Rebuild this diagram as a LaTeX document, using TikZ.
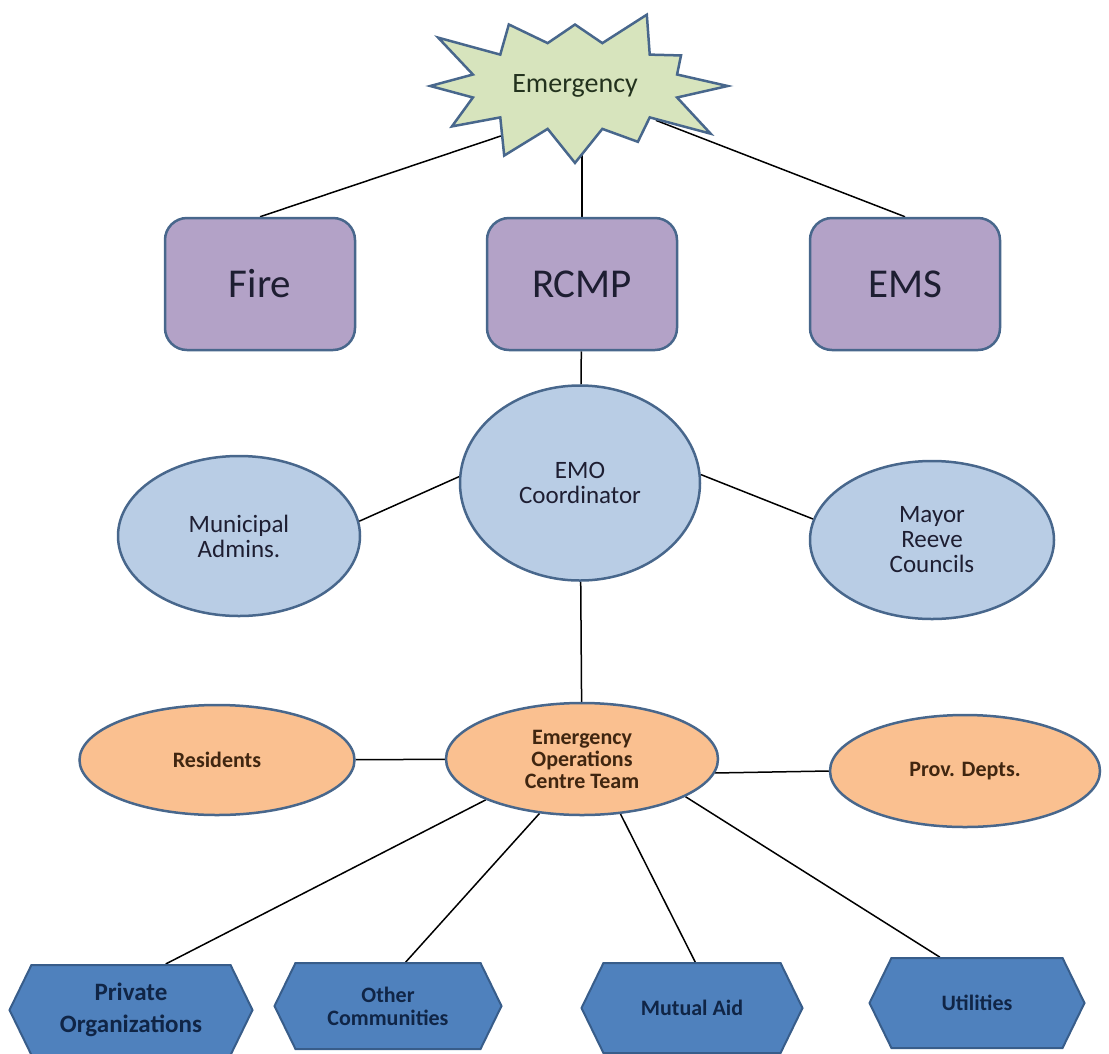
\documentclass[tikz,border=0pt]{standalone}
\usepackage{fontspec}
\setmainfont{Carlito}
\usetikzlibrary{shapes.symbols,shapes.geometric,backgrounds}
\definecolor{starfill}{RGB}{215,228,189}
\definecolor{rimblue}{RGB}{72,103,140}
\definecolor{boxlila}{RGB}{179,162,199}
\definecolor{ovalblue}{RGB}{185,205,229}
\definecolor{ovalorange}{RGB}{250,192,144}
\definecolor{hexblue}{RGB}{79,129,189}
\definecolor{hexrim}{RGB}{56,93,138}
\definecolor{inkblue}{RGB}{16,37,70}
\definecolor{inkbrown}{RGB}{64,38,16}
\definecolor{inkdark}{RGB}{30,30,50}
\definecolor{inkgreen}{RGB}{35,50,30}
\newcommand{\fsz}[2]{\fontsize{#1}{#2}\selectfont}

\begin{document}
\begin{tikzpicture}[x=1pt, y=-1pt,
				burst/.style={starburst, starburst points=12, starburst point height=54pt, random starburst=3, draw=rimblue, line width=2.5pt, fill=starfill, inner xsep=12pt, inner ysep=20pt, text=inkgreen, font=\fsz{28}{32}},
				unit/.style={rectangle, rounded corners=22pt, draw=rimblue, line width=2.5pt, fill=boxlila, minimum width=190pt, minimum height=132pt, text=inkdark, font=\fsz{41}{44}},
				blueoval/.style={ellipse, draw=rimblue, line width=2.5pt, fill=ovalblue, inner sep=0pt, align=center, text=inkdark, font=\fsz{25}{25}},
				orangeoval/.style={ellipse, draw=rimblue, line width=2.5pt, fill=ovalorange, inner sep=0pt, align=center, text=inkbrown, font=\bfseries\fsz{22}{22}},
				hexa/.style={signal, signal to=west and east, signal pointer angle=128, draw=hexrim, line width=2pt, fill=hexblue, inner sep=0pt, minimum height=90pt, align=center, text=inkblue, font=\bfseries\fsz{22}{23}},
				link/.style={draw=black, line width=1.5pt}]
				% Bildbereich
				\useasboundingbox (0,0) rectangle (1109,1053);
				% Ausloeser
				\node[burst] (star) at (575,86) {Emergency};
				% Einsatzkraefte
				\node[unit] (fire) at (260,284) {Fire};
				\node[unit] (rcmp) at (582,284) {RCMP};
				\node[unit] (ems) at (905,284) {EMS};
				% Koordination
				\node[blueoval, minimum width=240pt, minimum height=195pt] (emo) at (580,483) {EMO\\Coordinator};
				\node[blueoval, minimum width=242pt, minimum height=160pt] (muni) at (239,536) {Municipal\\Admins.};
				\node[blueoval, minimum width=244pt, minimum height=158pt] (mayor) at (932,540) {Mayor\\Reeve\\Councils};
				% Einsatzzentrale
				\node[orangeoval, minimum width=272pt, minimum height=112pt] (eoc) at (582,759) {Emergency\\Operations\\Centre Team};
				\node[orangeoval, minimum width=275pt, minimum height=110pt] (res) at (217,760) {Residents};
				\node[orangeoval, minimum width=270pt, minimum height=112pt] (prov) at (965,771) {Prov. Depts.};
				% Partner
				\node[hexa, minimum width=243pt, font=\bfseries\fsz{25}{32}] (priv) at (131,1010) {Private\\Organizations};
				\node[hexa, minimum width=227pt, minimum height=86pt] (other) at (388,1006) {Other\\Communities};
				\node[hexa, minimum width=221pt] (mutual) at (692,1008) {Mutual Aid};
				\node[hexa, minimum width=215pt] (util) at (977,1003) {Utilities};
				% Verbindungen
				\begin{scope}[on background layer]
				\draw[link] (fire.north) -- (star.214);
				\draw[link] (rcmp.north) -- (rcmp.north |- star.center);
				\draw[link] (ems.north) -- (star.337);
				\draw[link] (rcmp) -- (emo);
				\draw[link] (muni.7) -- (emo.177);
				\draw[link] (emo.4) -- (mayor.170);
				\draw[link] (emo) -- (eoc);
				\draw[link] (res) -- (eoc);
				\draw[link] (eoc.-6) -- (prov.west);
				\foreach \h/\a/\b in {priv/203/53, other/232/68, mutual/305/86, util/340/129}
					\draw[link] (eoc.\a) -- (\h.\b);
				\end{scope}
\end{tikzpicture}
\end{document}
